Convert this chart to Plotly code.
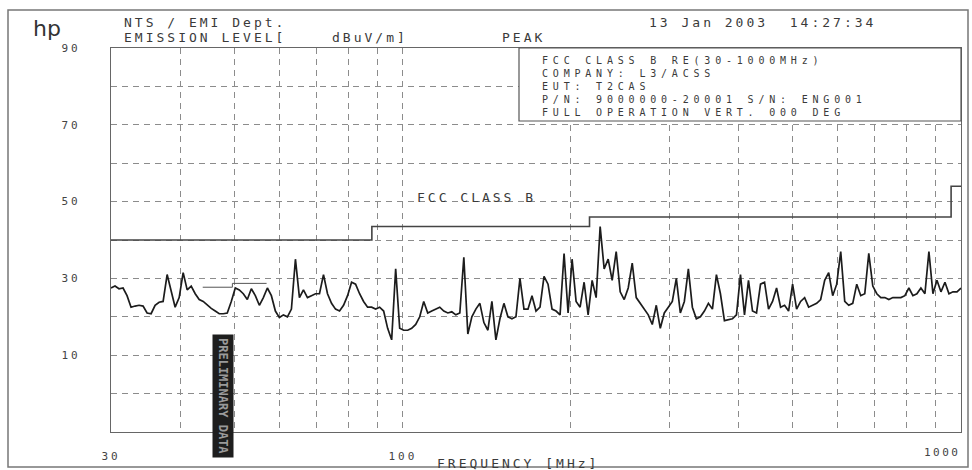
import numpy as np
import plotly.graph_objects as go

# ---------------- data ----------------
START_MHZ, STOP_MHZ = 30, 1000

level_dbuv = [
    27.5, 28.0, 27.3, 27.5, 25.5, 22.5, 22.8, 23.0, 22.8, 21.0, 20.8, 23.0, 23.8, 24.0, 31.0,
    26.5, 22.5, 25.0, 31.5, 27.0, 28.0, 26.0, 24.5, 24.0, 23.0, 22.2, 21.5, 20.8, 20.8, 21.0,
    24.0, 27.5, 27.0, 26.0, 24.5, 27.3, 25.5, 23.0, 25.0, 27.5, 25.5, 21.5, 19.8, 20.5, 20.0, 22.0,
    35.0, 25.0, 27.0, 25.0, 25.5, 26.0, 26.0, 31.0, 26.0, 23.5, 22.0, 21.5, 23.0, 25.5, 29.0, 28.5, 26.0, 24.0, 22.5, 22.5, 22.0,
    22.5, 21.5, 17.0, 14.0, 32.5, 17.0, 16.5, 16.5, 17.0, 18.0, 20.0, 24.0, 21.0, 21.5, 22.0, 22.5, 21.5, 21.0, 21.3, 20.5, 21.0,
    35.5, 15.5, 20.0, 22.0, 23.5, 18.5, 16.5, 24.0, 14.0, 19.5, 23.5, 20.0, 19.5, 20.0,
    30.0, 22.0, 22.0, 25.5, 21.5, 22.5, 30.5, 28.5, 22.0, 21.5, 20.5, 36.5, 21.0, 35.0, 24.0, 22.5, 29.0, 20.5, 29.5, 25.0,
    43.5, 32.5, 35.0, 29.5, 37.0, 26.5, 24.5, 27.5, 34.0, 25.0, 23.5, 22.0, 20.5, 18.0, 23.0, 17.0, 21.0, 22.5, 24.0, 30.0, 21.0,
    24.0, 32.5, 22.5, 19.5, 20.0, 21.5, 23.5, 22.0, 31.0, 26.0, 19.0, 19.2, 19.5, 20.5, 31.0, 20.5, 29.5, 21.5, 21.0, 28.5, 29.0,
    22.0, 24.0, 27.5, 22.5, 23.0, 21.5, 28.5, 22.0, 24.0, 25.0, 22.5, 23.0, 23.5, 24.5, 29.5, 31.5, 25.5, 28.5, 37.0, 24.0, 23.0,
    23.5, 28.5, 25.5, 26.0, 36.5, 28.0, 26.0, 25.0, 25.0, 24.5, 25.0, 25.0, 25.0, 25.5, 27.5, 25.5, 26.0, 27.5, 26.0, 37.0,
    26.0, 29.5, 26.5, 29.0, 26.0, 26.5, 26.5, 27.5,
]
freq_mhz = np.geomspace(START_MHZ, STOP_MHZ, len(level_dbuv))  # sweep grid

limit_freq = [30, 88, 216, 960, 1000]
limit_level = [40, 43.5, 46, 54, 54]

display_freq = [43.8, 49.5, 49.5, 57.0]
display_level = [27.7, 27.7, 28.7, 28.7]

x_grid = [30, 40, 50, 60, 70, 80, 90, 100, 200, 300, 400, 500, 600, 700, 800, 900, 1000]
x_labels = {30: "30", 100: "100"}
x_end_label = (1000, "1000")
y_grid = [-10, 0, 10, 20, 30, 40, 50, 60, 70, 80, 90]
y_labels = {10: "10", 30: "30", 50: "50", 70: "70", 90: "90"}

header_left = ["NTS / EMI Dept.", "EMISSION LEVEL["]
unit_text = "dBuV/m]"
detector_text = "PEAK"
date_text = "13 Jan 2003\u00a0\u00a014:27:34"
info_lines = [
    "FCC CLASS B RE(30-1000MHz)",
    "COMPANY: L3/ACSS",
    "EUT: T2CAS",
    "P/N: 9000000-20001 S/N: ENG001",
    "FULL OPERATION VERT. 000 DEG",
]
limit_name = "FCC CLASS B"
x_title = "FREQUENCY [MHz]"
stamp_text = "PRELIMINARY DATA"

# ---------------- style / layout ----------------
MONO = "DejaVu Sans Mono"
TXT = "#3a3a3a"
PL, PR, PT, PB = 111, 961, 48, 432  # plot area in pixels


def px(x):
    return (x - PL) / (PR - PL)


def py(y):
    return (PB - y) / (PB - PT)


def sp(t, ls=3):
    return f'<span style="letter-spacing:{ls}px">{t}</span>'


fig = go.Figure()
fig.add_trace(go.Scatter(x=limit_freq, y=limit_level, mode="lines",
                         line=dict(shape="hv", color="#444", width=1.6), hoverinfo="skip"))
fig.add_trace(go.Scatter(x=display_freq, y=display_level, mode="lines",
                         line=dict(color="#555", width=1), hoverinfo="skip"))
fig.add_trace(go.Scatter(x=freq_mhz, y=level_dbuv, mode="lines",
                         line=dict(color="#1c1c1c", width=1.7)))

xt = [sp(x_labels[v]) if v in x_labels else "" for v in x_grid]
yt = [sp(y_labels[v]) if v in y_labels else "" for v in y_grid]

axis_common = dict(showgrid=True, gridcolor="#8c8c8c", gridwidth=1, griddash="6px,5px",
                   showline=True, linecolor="#666", linewidth=1.2, mirror=True,
                   ticks="", zeroline=False, automargin=False,
                   tickfont=dict(family=MONO, size=11, color="#444"))

fig.update_xaxes(type="log", range=[np.log10(START_MHZ), np.log10(STOP_MHZ)],
                 tickmode="array", tickvals=x_grid, ticktext=xt, tickangle=0,
                 ticklabelstandoff=14, **axis_common)
fig.update_yaxes(range=[-10, 90], tickmode="array", tickvals=y_grid, ticktext=yt,
                 ticklabelstandoff=27, **axis_common)

ann = []


def add_text(t, x, y, size=13, ls=3, anchor="left", color=TXT, family=MONO):
    ann.append(dict(text=sp(t, ls) if ls else t, x=px(x), y=py(y), xref="paper", yref="paper",
                    xanchor=anchor, yanchor="middle", showarrow=False,
                    font=dict(family=family, size=size, color=color)))


# last frequency label sits right-aligned on the 1000 MHz line (axis coordinates)
ann.append(dict(text=sp(x_end_label[1], 2.5), x=np.log10(x_end_label[0]), y=py(452),
                xref="x", yref="paper", xanchor="right", yanchor="middle", xshift=2,
                showarrow=False, font=dict(family=MONO, size=11, color="#444")))
ann.append(dict(text="hp", x=px(31), y=py(28), xref="paper", yref="paper", xanchor="left",
                yanchor="middle", showarrow=False,
                font=dict(family="DejaVu Sans", size=22, color="#333")))
add_text(header_left[0], 122, 23)
add_text(header_left[1], 122, 37)
add_text(unit_text, 330, 37)
add_text(detector_text, 500, 37)
add_text(date_text, 647, 23)
# info block: one multi-line text (13 px line pitch at size 10)
ann.append(dict(text="<br>".join(sp(l, 4.8) for l in info_lines),
                x=px(540), y=py(86), xref="paper", yref="paper", xanchor="left",
                yanchor="middle", align="left", showarrow=False,
                font=dict(family=MONO, size=10, color=TXT)))
add_text(limit_name, 415, 197)
add_text(x_title, 435, 463)
ann.append(dict(text=f"<b>{stamp_text}</b>", x=px(223), y=py(396), xref="paper", yref="paper",
                xanchor="center", yanchor="middle", showarrow=False, textangle=90,
                bgcolor="#1e1e1e", borderpad=3,
                font=dict(family=MONO, size=12, color="#9a9a9a")))

shapes = [
    dict(type="rect", xref="paper", yref="paper", x0=px(519), x1=1, y0=py(121), y1=1,
         fillcolor="white", line=dict(color="#555", width=1.2), layer="above"),
    dict(type="rect", xref="paper", yref="paper", x0=px(8), x1=px(968), y0=py(467), y1=py(10),
         fillcolor="rgba(0,0,0,0)", line=dict(color="#777", width=1.5), layer="above"),
]

fig.update_layout(width=972, height=470, margin=dict(l=PL, r=972 - PR, t=PT, b=470 - PB,
                                                     autoexpand=False),
                  paper_bgcolor="white", plot_bgcolor="white", showlegend=False,
                  annotations=ann, shapes=shapes)

fig.write_html("out.html")
